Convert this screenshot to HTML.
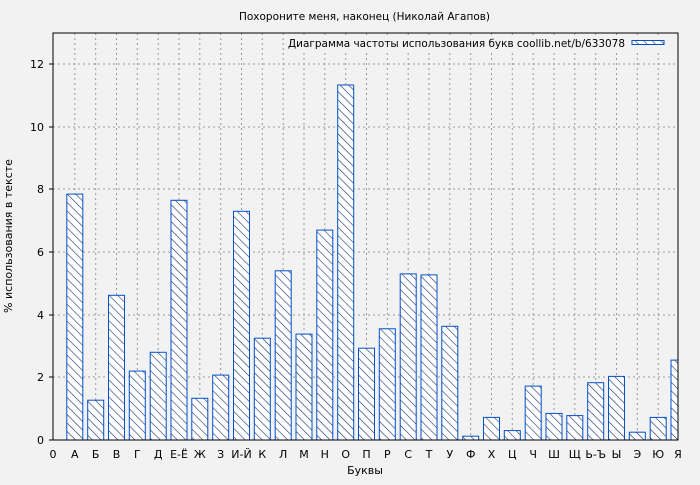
<!DOCTYPE html>
<html><head><meta charset="utf-8"><style>
body{margin:0;background:#f2f2f2;}
svg text{font-family:"DejaVu Sans","Liberation Sans",sans-serif;font-size:11px;fill:#000;}
</style></head><body>
<svg width="700" height="480" viewBox="0 0 700 480" xmlns="http://www.w3.org/2000/svg">
<defs>
<pattern id="h" patternUnits="userSpaceOnUse" width="6" height="6" patternTransform="rotate(-45)">
<rect width="6" height="6" fill="#fff"/>
<line x1="0" y1="0" x2="0" y2="6" stroke="#1a2f6e" stroke-width="1.2"/>
</pattern>
<clipPath id="c"><rect x="53" y="33" width="625" height="408"/></clipPath>
</defs>
<rect width="700" height="480" fill="#f2f2f2"/>
<text x="239" y="20" textLength="251" lengthAdjust="spacingAndGlyphs" style="font-size:10.5px">Похороните меня, наконец (Николай Агапов)</text>
<g stroke="#999" stroke-dasharray="2,3" stroke-width="1">
<line x1="53" x2="678" y1="64" y2="64"/><line x1="53" x2="678" y1="127" y2="127"/><line x1="53" x2="678" y1="189" y2="189"/><line x1="53" x2="678" y1="252" y2="252"/><line x1="53" x2="678" y1="315" y2="315"/><line x1="53" x2="678" y1="377" y2="377"/>
<line x1="74.8" x2="74.8" y1="33" y2="440"/><line x1="95.7" x2="95.7" y1="33" y2="440"/><line x1="116.5" x2="116.5" y1="33" y2="440"/><line x1="137.3" x2="137.3" y1="33" y2="440"/><line x1="158.2" x2="158.2" y1="33" y2="440"/><line x1="179" x2="179" y1="33" y2="440"/><line x1="199.8" x2="199.8" y1="33" y2="440"/><line x1="220.7" x2="220.7" y1="33" y2="440"/><line x1="241.5" x2="241.5" y1="33" y2="440"/><line x1="262.3" x2="262.3" y1="33" y2="440"/><line x1="283.2" x2="283.2" y1="33" y2="440"/><line x1="304" x2="304" y1="33" y2="440"/><line x1="324.8" x2="324.8" y1="33" y2="440"/><line x1="345.7" x2="345.7" y1="33" y2="440"/><line x1="366.5" x2="366.5" y1="33" y2="440"/><line x1="387.3" x2="387.3" y1="33" y2="440"/><line x1="408.2" x2="408.2" y1="33" y2="440"/><line x1="429" x2="429" y1="33" y2="440"/><line x1="449.8" x2="449.8" y1="33" y2="440"/><line x1="470.7" x2="470.7" y1="33" y2="440"/><line x1="491.5" x2="491.5" y1="33" y2="440"/><line x1="512.3" x2="512.3" y1="33" y2="440"/><line x1="533.2" x2="533.2" y1="33" y2="440"/><line x1="554" x2="554" y1="33" y2="440"/><line x1="574.8" x2="574.8" y1="33" y2="440"/><line x1="595.7" x2="595.7" y1="33" y2="440"/><line x1="616.5" x2="616.5" y1="33" y2="440"/><line x1="637.3" x2="637.3" y1="33" y2="440"/><line x1="658.2" x2="658.2" y1="33" y2="440"/>
</g>
<g fill="url(#h)" stroke="#0050c8" stroke-width="1" clip-path="url(#c)">
<rect x="66.8" y="194.1" width="16" height="245.9"/>
<rect x="87.7" y="400.2" width="16" height="39.8"/>
<rect x="108.5" y="295.3" width="16" height="144.7"/>
<rect x="129.3" y="371.1" width="16" height="68.9"/>
<rect x="150.2" y="352.3" width="16" height="87.7"/>
<rect x="171" y="200.3" width="16" height="239.7"/>
<rect x="191.8" y="398.3" width="16" height="41.7"/>
<rect x="212.7" y="375.1" width="16" height="64.9"/>
<rect x="233.5" y="211.3" width="16" height="228.7"/>
<rect x="254.3" y="338.2" width="16" height="101.8"/>
<rect x="275.2" y="270.8" width="16" height="169.2"/>
<rect x="296" y="334.1" width="16" height="105.9"/>
<rect x="316.8" y="230.1" width="16" height="209.9"/>
<rect x="337.7" y="85" width="16" height="355"/>
<rect x="358.5" y="348.2" width="16" height="91.8"/>
<rect x="379.3" y="328.8" width="16" height="111.2"/>
<rect x="400.2" y="273.9" width="16" height="166.1"/>
<rect x="421" y="274.9" width="16" height="165.1"/>
<rect x="441.8" y="326.3" width="16" height="113.7"/>
<rect x="462.7" y="436.2" width="16" height="3.8"/>
<rect x="483.5" y="417.4" width="16" height="22.6"/>
<rect x="504.3" y="430.6" width="16" height="9.4"/>
<rect x="525.2" y="386.1" width="16" height="53.9"/>
<rect x="546" y="413.4" width="16" height="26.6"/>
<rect x="566.8" y="415.6" width="16" height="24.4"/>
<rect x="587.7" y="382.7" width="16" height="57.3"/>
<rect x="608.5" y="376.4" width="16" height="63.6"/>
<rect x="629.3" y="432.2" width="16" height="7.8"/>
<rect x="650.2" y="417.4" width="16" height="22.6"/>
<rect x="671" y="360.1" width="16" height="79.9"/>
</g>
<rect x="285" y="35" width="388" height="16" fill="#f2f2f2"/>
<text x="288" y="47" textLength="337" lengthAdjust="spacingAndGlyphs">Диаграмма частоты использования букв coollib.net/b/633078</text>
<rect x="632" y="40.5" width="32" height="4" fill="url(#h)" stroke="#0050c8"/>
<rect x="53" y="33" width="625" height="407" fill="none" stroke="#000" stroke-width="1"/>
<g stroke="#000"><line x1="49" x2="53" y1="64" y2="64"/><line x1="49" x2="53" y1="127" y2="127"/><line x1="49" x2="53" y1="189" y2="189"/><line x1="49" x2="53" y1="252" y2="252"/><line x1="49" x2="53" y1="315" y2="315"/><line x1="49" x2="53" y1="377" y2="377"/><line x1="49" x2="53" y1="440" y2="440"/></g>
<g text-anchor="end"><text x="44" y="68">12</text><text x="44" y="131">10</text><text x="44" y="193">8</text><text x="44" y="256">6</text><text x="44" y="319">4</text><text x="44" y="381">2</text><text x="44" y="444">0</text></g>
<g text-anchor="middle">
<text x="53" y="458">0</text><text x="74.8" y="458">А</text><text x="95.7" y="458">Б</text><text x="116.5" y="458">В</text><text x="137.3" y="458">Г</text><text x="158.2" y="458">Д</text><text x="179" y="458">Е-Ё</text><text x="199.8" y="458">Ж</text><text x="220.7" y="458">З</text><text x="241.5" y="458">И-Й</text><text x="262.3" y="458">К</text><text x="283.2" y="458">Л</text><text x="304" y="458">М</text><text x="324.8" y="458">Н</text><text x="345.7" y="458">О</text><text x="366.5" y="458">П</text><text x="387.3" y="458">Р</text><text x="408.2" y="458">С</text><text x="429" y="458">Т</text><text x="449.8" y="458">У</text><text x="470.7" y="458">Ф</text><text x="491.5" y="458">Х</text><text x="512.3" y="458">Ц</text><text x="533.2" y="458">Ч</text><text x="554" y="458">Ш</text><text x="574.8" y="458">Щ</text><text x="595.7" y="458">Ь-Ъ</text><text x="616.5" y="458">Ы</text><text x="637.3" y="458">Э</text><text x="658.2" y="458">Ю</text><text x="678" y="458">Я</text>
<text x="365" y="474">Буквы</text>
<text x="0" y="0" transform="translate(12,236) rotate(-90)">% использования в тексте</text>
</g>
</svg>
</body></html>
